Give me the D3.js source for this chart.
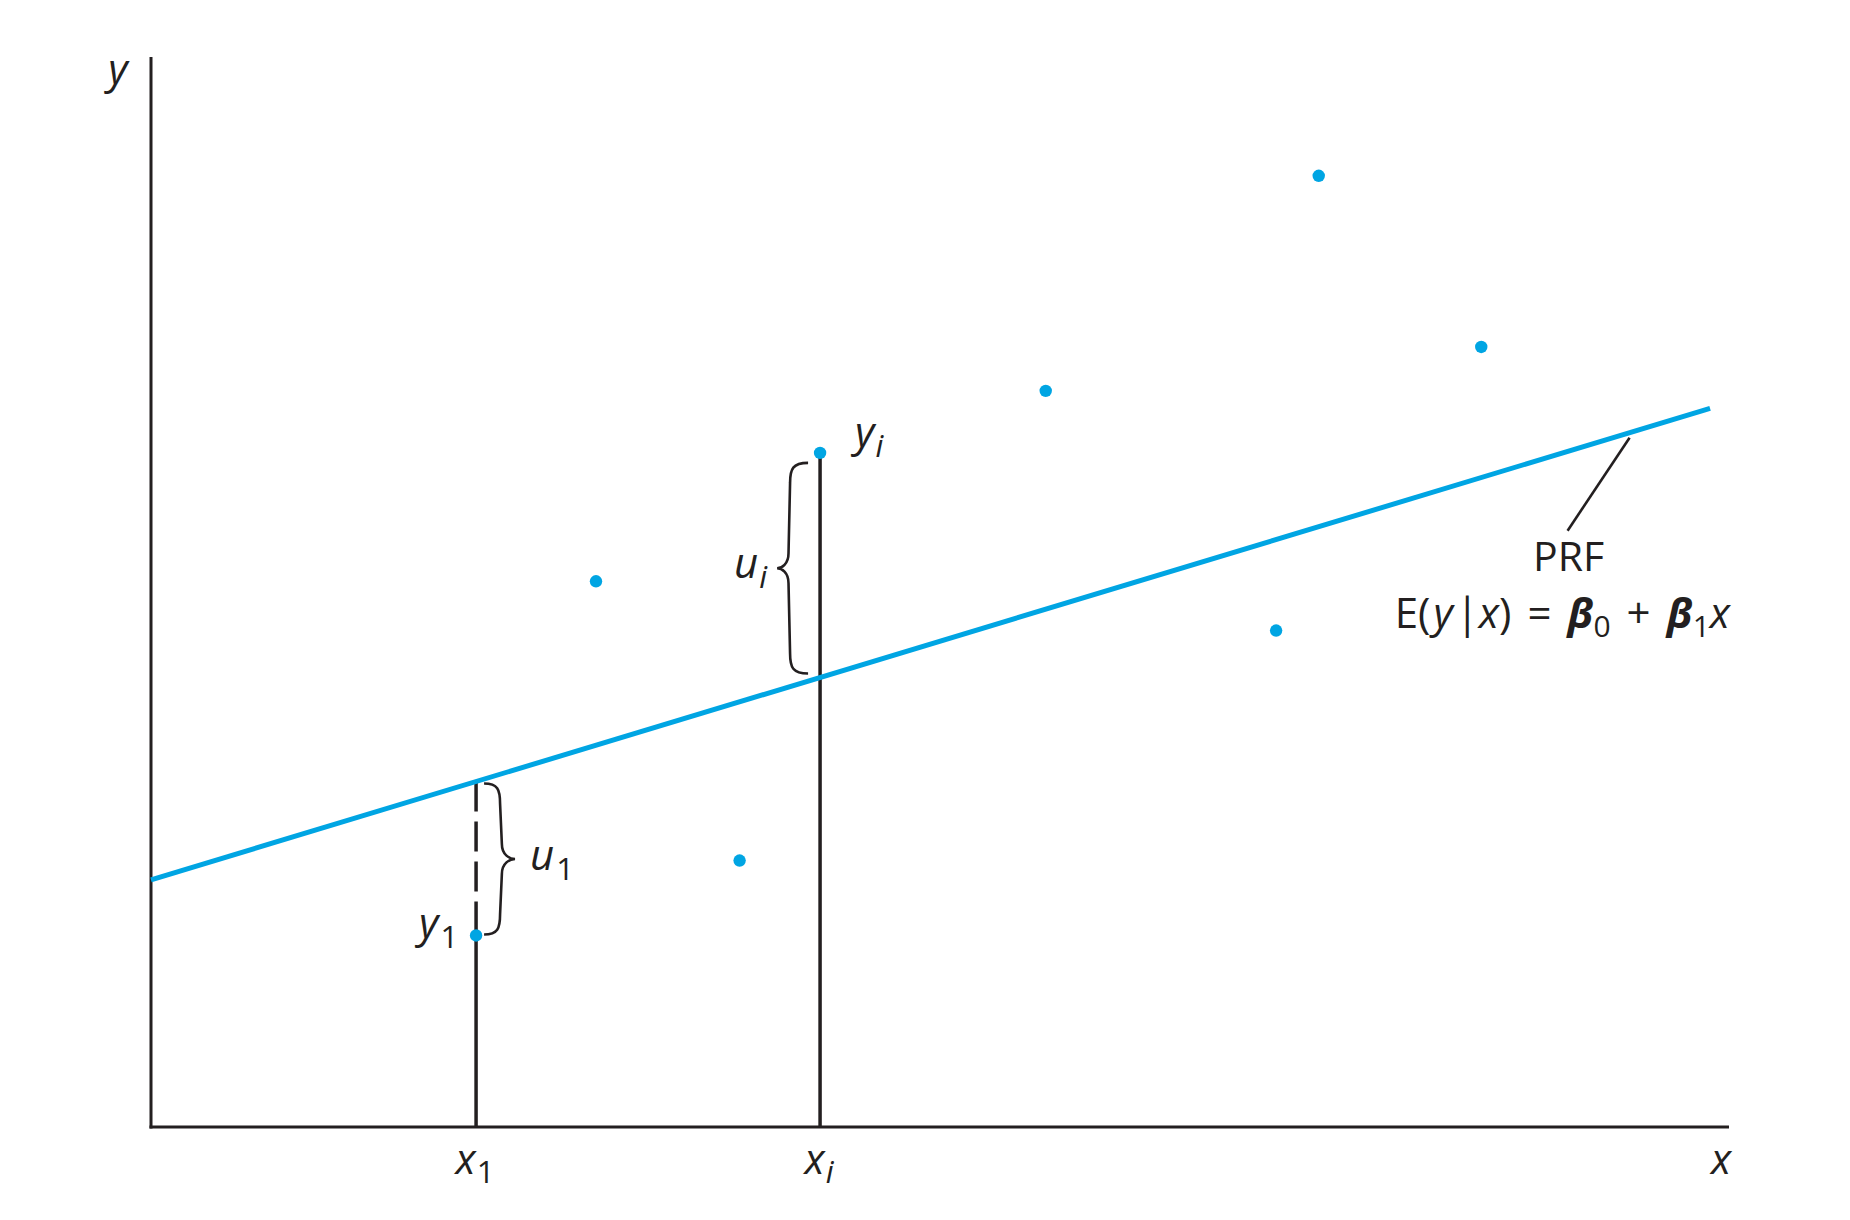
<!DOCTYPE html>
<html>
<head>
<meta charset="utf-8">
<script src="https://cdn.jsdelivr.net/npm/d3@7"></script>
<style>
  html, body { margin: 0; padding: 0; background: #ffffff; }
  svg { display: block; }
  text { font-family: "Open Sans", "Noto Sans", sans-serif; fill: #231f20; }
</style>
</head>
<body>
<svg id="chart" width="1850" height="1220"></svg>
<script>
// ---- data (in abstract units of the diagram) ----
const pointX = [2.06, 2.82, 3.73, 4.24, 5.67, 7.13, 7.40, 8.43];
const pointY = [1.79, 5.10, 2.49, 6.30, 6.88, 4.64, 8.89, 7.29];
const beta0 = 2.31;
const beta1 = 0.446;
const prfRange = [0, 9.88];
const markedIdx = [0, 3];              // observations 1 and i
const markedNames = ["1", "i"];        // subscripts
const prfAnchorX = 9.37;               // where the PRF leader touches the line

const BLUE = "#00a5e3";
const INK = "#231f20";

const svg = d3.select("#chart");
const x = d3.scaleLinear().domain([0, 10]).range([151, 1729]);
const y = d3.scaleLinear().domain([0, 10]).range([1127, 57]);
const prf = v => beta0 + beta1 * v;

// axes
svg.append("line").attr("x1", x(0)).attr("x2", x(0)).attr("y1", y(10)).attr("y2", y(0) + 1.5)
  .attr("stroke", INK).attr("stroke-width", 3);
svg.append("line").attr("x1", x(0) - 1.5).attr("x2", x(10)).attr("y1", y(0)).attr("y2", y(0))
  .attr("stroke", INK).attr("stroke-width", 3);

// vertical drops for x1 and xi
markedIdx.forEach((idx) => {
  const px = x(pointX[idx]);
  const yLine = y(prf(pointX[idx]));
  const yPt = y(pointY[idx]);
  svg.append("line").attr("x1", px).attr("x2", px).attr("y1", y(0)).attr("y2", yPt)
    .attr("stroke", INK).attr("stroke-width", 3.5);
  if (pointY[idx] < prf(pointX[idx])) {
    svg.append("line").attr("x1", px).attr("x2", px).attr("y1", yLine).attr("y2", yPt)
      .attr("stroke", INK).attr("stroke-width", 3.5).attr("stroke-dasharray", "30 10");
  }
});

// PRF line
svg.append("line")
  .attr("x1", x(prfRange[0])).attr("y1", y(prf(prfRange[0])))
  .attr("x2", x(prfRange[1])).attr("y2", y(prf(prfRange[1])))
  .attr("stroke", BLUE).attr("stroke-width", 5);

// points
svg.selectAll("circle.pt").data(pointX.map((v, i) => [v, pointY[i]]))
  .enter().append("circle").attr("class", "pt")
  .attr("cx", d => x(d[0])).attr("cy", d => y(d[1])).attr("r", 6.2)
  .attr("fill", BLUE);

// braces
function bracePath(xe, xb, xt, y0, y1) {
  const ym = (y0 + y1) / 2;
  const r = 20, t = 15;
  const k = xb - xt;
  return `M${xe},${y0} C${xe - (xe - xb) * 0.85},${y0} ${xb},${y0 + r * 0.3} ${xb},${y0 + r}` +
         ` L${xb - k * 0.12},${ym - t} C${xb - k * 0.12},${ym - 4} ${xt + k * 0.35},${ym} ${xt},${ym}` +
         ` C${xt + k * 0.35},${ym} ${xb - k * 0.12},${ym + 4} ${xb - k * 0.12},${ym + t}` +
         ` L${xb},${y1 - r} C${xb},${y1 - r * 0.3} ${xe - (xe - xb) * 0.85},${y1} ${xe},${y1}`;
}
// u1 brace (point below line): to the right of the drop
{
  const idx = markedIdx[0];
  const px = x(pointX[idx]);
  const yTop = y(prf(pointX[idx])) + 2, yBot = y(pointY[idx]) - 1;
  svg.append("path").attr("d", bracePath(px + 8, px + 24, px + 39, yTop, yBot))
    .attr("fill", "none").attr("stroke", INK).attr("stroke-width", 2.6);
  const t = svg.append("text").attr("x", px + 54).attr("y", (yTop + yBot) / 2 + 11)
    .attr("font-size", 42).attr("font-style", "italic");
  t.append("tspan").text("u");
  t.append("tspan").attr("dx", 2).attr("dy", 10).attr("font-size", 31).attr("font-style", "normal").text("1");
}
// ui brace (point above line): to the left of the drop
{
  const idx = markedIdx[1];
  const px = x(pointX[idx]);
  const yTop = y(pointY[idx]) + 10, yBot = y(prf(pointX[idx])) - 4;
  svg.append("path").attr("d", bracePath(px - 12, px - 30, px - 43, yTop, yBot))
    .attr("fill", "none").attr("stroke", INK).attr("stroke-width", 2.6);
  const t = svg.append("text").attr("x", px - 86).attr("y", (yTop + yBot) / 2 + 10)
    .attr("font-size", 42).attr("font-style", "italic");
  t.append("tspan").text("u");
  t.append("tspan").attr("dx", 1).attr("dy", 10).attr("font-size", 31).text("i");
}

// point labels y1 and yi
{
  const idx = markedIdx[0];
  const t = svg.append("text").attr("x", x(pointX[idx]) - 57).attr("y", y(pointY[idx]) + 3)
    .attr("font-size", 42).attr("font-style", "italic");
  t.append("tspan").text("y");
  t.append("tspan").attr("dx", 2).attr("dy", 10).attr("font-size", 31).attr("font-style", "normal").text("1");
}
{
  const idx = markedIdx[1];
  const t = svg.append("text").attr("x", x(pointX[idx]) + 35).attr("y", y(pointY[idx]) - 6)
    .attr("font-size", 42).attr("font-style", "italic");
  t.append("tspan").text("y");
  t.append("tspan").attr("dx", 1).attr("dy", 10).attr("font-size", 31).text("i");
}

// x-axis labels
markedIdx.forEach((idx, k) => {
  const t = svg.append("text").attr("x", x(pointX[idx]) - 1).attr("y", 1174)
    .attr("text-anchor", "middle").attr("font-size", 42).attr("font-style", "italic");
  t.append("tspan").text("x");
  const s = t.append("tspan").attr("dx", 1).attr("dy", 9).attr("font-size", 31).text(markedNames[k]);
  if (markedNames[k] === "1") s.attr("font-style", "normal");
});
svg.append("text").attr("x", 1721).attr("y", 1174).attr("text-anchor", "middle")
  .attr("font-size", 42).attr("font-style", "italic").text("x");
svg.append("text").attr("x", 118).attr("y", 84).attr("text-anchor", "middle")
  .attr("font-size", 42).attr("font-style", "italic").text("y");

// PRF annotation
{
  const ax = x(prfAnchorX), ay = y(prf(prfAnchorX)) + 5;
  svg.append("line").attr("x1", ax).attr("y1", ay).attr("x2", ax - 62).attr("y2", ay + 93)
    .attr("stroke", INK).attr("stroke-width", 2.6);
  svg.append("text").attr("x", ax - 61).attr("y", ay + 133).attr("text-anchor", "middle")
    .attr("font-size", 41).text("PRF");
  const eq = svg.append("text").attr("x", 1730).attr("y", ay + 190).attr("text-anchor", "end")
    .attr("font-size", 42);
  eq.append("tspan").text("E(");
  eq.append("tspan").attr("dx", 3).attr("font-style", "italic").text("y");
  eq.append("tspan").attr("dx", 3).text("|");
  eq.append("tspan").attr("font-style", "italic").text("x");
  eq.append("tspan").text(")");
  eq.append("tspan").attr("dx", 16).text("=");
  eq.append("tspan").attr("dx", 16).attr("font-style", "italic").attr("font-weight", "bold").text("β");
  eq.append("tspan").attr("dy", 9).attr("font-size", 30).text("0");
  eq.append("tspan").attr("dy", -9).attr("dx", 16).text("+");
  eq.append("tspan").attr("dx", 16).attr("font-style", "italic").attr("font-weight", "bold").text("β");
  eq.append("tspan").attr("dy", 9).attr("font-size", 30).text("1");
  eq.append("tspan").attr("dy", -9).attr("font-style", "italic").text("x");
}
</script>
</body>
</html>
